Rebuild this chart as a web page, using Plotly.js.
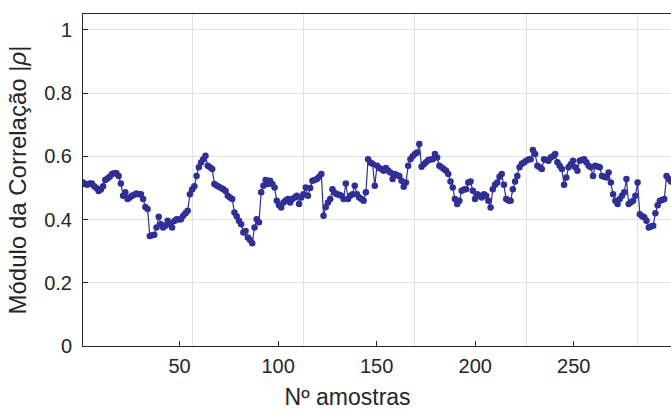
<!DOCTYPE html>
<html>
<head>
<meta charset="utf-8">
<script src="https://cdn.plot.ly/plotly-3.0.1.min.js"></script>
<style>
  html, body { margin: 0; padding: 0; background: #ffffff; overflow: hidden; }
  #chart { width: 671px; height: 412px; }
</style>
</head>
<body>
<div id="chart"></div>
<script>
// |rho| per sample (samples 1..265)
const correlation = [
  0.517, 0.512, 0.510, 0.514, 0.514, 0.505, 0.500, 0.490, 0.495, 0.505,
  0.525, 0.530, 0.535, 0.544, 0.546, 0.546, 0.538, 0.514, 0.475, 0.486,
  0.465, 0.470, 0.475, 0.478, 0.482, 0.480, 0.480, 0.465, 0.440, 0.433,
  0.348, 0.350, 0.352, 0.375, 0.409, 0.385, 0.375, 0.380, 0.396, 0.385,
  0.375, 0.395, 0.401, 0.400, 0.401, 0.412, 0.420, 0.428, 0.480, 0.495,
  0.505, 0.538, 0.565, 0.580, 0.591, 0.602, 0.570, 0.565, 0.560, 0.512,
  0.508, 0.504, 0.500, 0.496, 0.490, 0.475, 0.470, 0.465, 0.422, 0.410,
  0.396, 0.385, 0.359, 0.364, 0.343, 0.335, 0.325, 0.375, 0.401, 0.391,
  0.486, 0.507, 0.525, 0.512, 0.523, 0.512, 0.501, 0.459, 0.445, 0.438,
  0.454, 0.460, 0.465, 0.454, 0.465, 0.470, 0.475, 0.449, 0.470, 0.480,
  0.501, 0.475, 0.500, 0.523, 0.525, 0.528, 0.535, 0.544, 0.412, 0.440,
  0.454, 0.465, 0.496, 0.485, 0.480, 0.478, 0.475, 0.465, 0.514, 0.465,
  0.475, 0.480, 0.507, 0.480, 0.470, 0.465, 0.459, 0.486, 0.591, 0.580,
  0.576, 0.507, 0.570, 0.563, 0.560, 0.554, 0.563, 0.555, 0.549, 0.528,
  0.544, 0.540, 0.538, 0.523, 0.504, 0.517, 0.570, 0.591, 0.600, 0.607,
  0.612, 0.639, 0.567, 0.575, 0.581, 0.588, 0.590, 0.591, 0.607, 0.596,
  0.570, 0.565, 0.560, 0.554, 0.544, 0.520, 0.501, 0.465, 0.449, 0.459,
  0.491, 0.495, 0.496, 0.517, 0.520, 0.491, 0.465, 0.480, 0.475, 0.470,
  0.480, 0.475, 0.459, 0.438, 0.496, 0.510, 0.517, 0.535, 0.544, 0.510,
  0.465, 0.460, 0.459, 0.496, 0.520, 0.538, 0.565, 0.576, 0.580, 0.586,
  0.590, 0.591, 0.620, 0.607, 0.570, 0.565, 0.560, 0.591, 0.588, 0.586,
  0.596, 0.600, 0.607, 0.581, 0.570, 0.560, 0.510, 0.533, 0.565, 0.575,
  0.586, 0.565, 0.554, 0.586, 0.588, 0.591, 0.581, 0.570, 0.565, 0.538,
  0.570, 0.568, 0.565, 0.538, 0.535, 0.533, 0.549, 0.517, 0.480, 0.459,
  0.449, 0.465, 0.475, 0.486, 0.528, 0.449, 0.455, 0.459, 0.475, 0.517,
  0.417, 0.410, 0.407, 0.396, 0.375, 0.378, 0.380, 0.420, 0.445, 0.459,
  0.462, 0.465, 0.538, 0.528, 0.520
];
const samples = correlation.map((_, i) => i + 1);

const xTicks = [50, 100, 150, 200, 250];
const yTicks = [0, 0.2, 0.4, 0.6, 0.8, 1];
const yTickText = ['0', '0.2', '0.4', '0.6', '0.8', '1'];

const ink = '#262626';
const gridCol = '#e3e3e3';
const seriesCol = '#2e3094';
const font = 'Liberation Sans, Arial, sans-serif';

const series = {
  x: samples,
  y: correlation,
  type: 'scatter',
  mode: 'lines+markers',
  line: { color: seriesCol, width: 1.2 },
  marker: { color: seriesCol, size: 6.5 },
  hoverinfo: 'skip'
};

// empty trace that attaches the labelled sample scale (xaxis2) to the figure
const scaleHolder = {
  x: [],
  y: [],
  xaxis: 'x2',
  yaxis: 'y2',
  type: 'scatter',
  mode: 'markers',
  hoverinfo: 'skip',
  showlegend: false
};

const layout = {
  width: 671,
  height: 412,
  margin: { l: 83, r: 0, t: 14, b: 66 },
  paper_bgcolor: '#ffffff',
  plot_bgcolor: 'rgba(0,0,0,0)',
  showlegend: false,
  font: { family: font, color: ink, size: 20 },
  xaxis: {
    domain: [0, 1],
    range: [1, 265],
    tickvals: xTicks,
    showticklabels: false,
    ticks: '',
    showgrid: true,
    gridcolor: gridCol,
    gridwidth: 1,
    zeroline: false,
    showline: true,
    linecolor: ink,
    linewidth: 1,
    mirror: true
  },
  xaxis2: {
    anchor: 'y2',
    domain: [0, 0.9],
    range: [1, 269.5],
    tickvals: xTicks,
    ticktext: xTicks.map(String),
    ticks: 'inside',
    ticklen: 5,
    tickcolor: ink,
    tickfont: { family: font, size: 20, color: ink },
    ticklabelstandoff: 6,
    showgrid: false,
    zeroline: false,
    showline: false,
    title: { text: 'Nº amostras', font: { family: font, size: 23, color: ink }, standoff: 12 }
  },
  yaxis: {
    range: [0, 1.05],
    tickvals: yTicks,
    ticktext: yTickText,
    ticks: 'inside',
    ticklen: 5,
    tickcolor: ink,
    tickfont: { family: font, size: 20, color: ink },
    ticklabelstandoff: 6,
    showgrid: true,
    gridcolor: gridCol,
    gridwidth: 1,
    zeroline: false,
    showline: true,
    linecolor: ink,
    linewidth: 1,
    title: { text: 'Módulo da Correlação |<i>ρ</i>|', font: { family: font, size: 24, color: ink }, standoff: 10 }
  },
  yaxis2: {
    anchor: 'x2',
    range: [0, 1.05],
    visible: false,
    showgrid: false,
    zeroline: false
  }
};

Plotly.newPlot('chart', [series, scaleHolder], layout, { displayModeBar: false, staticPlot: true });
</script>
</body>
</html>
